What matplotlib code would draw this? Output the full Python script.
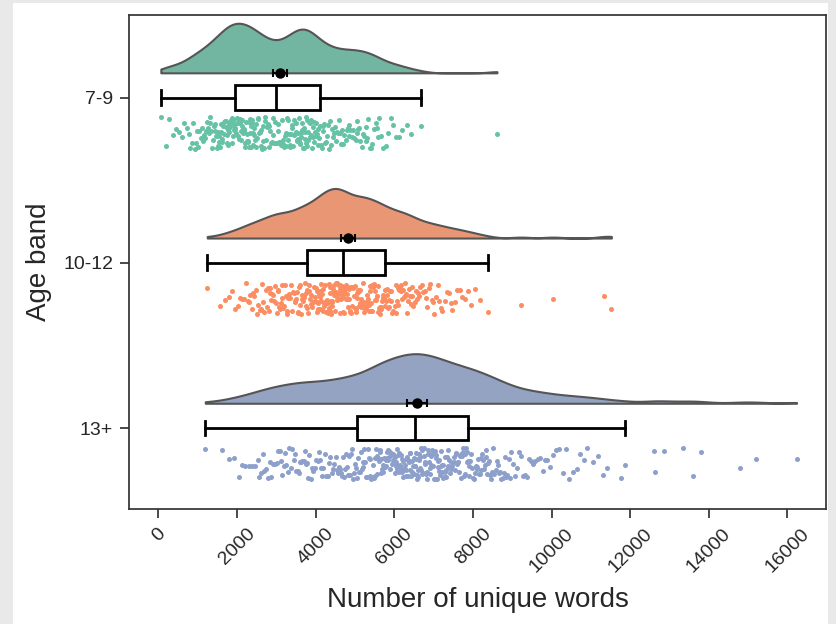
import colorsys
import numpy as np
import matplotlib
matplotlib.use("Agg")
import matplotlib.pyplot as plt
from matplotlib.patches import Rectangle

plt.rcParams["font.family"] = ["Liberation Sans", "DejaVu Sans"]

bands = ["7-9", "10-12", "13+"]
palette = ["#66c2a5", "#fc8d62", "#8da0cb"]
xticks = [0, 2000, 4000, 6000, 8000, 10000, 12000, 14000, 16000]

# unique-word counts per child
words_7_9 = [
    60, 190, 280, 370, 455, 530, 600, 660, 730, 770, 810, 850, 880, 920, 950, 990,
    1010, 1040, 1070, 1100, 1130, 1160, 1190, 1215, 1240,
    1255, 1275, 1300, 1320, 1340, 1360, 1385, 1405, 1425, 1450, 1470, 1490,
    1505, 1520, 1535, 1550, 1565, 1580, 1595, 1610, 1625, 1640, 1655, 1670, 1690, 1705, 1720, 1740,
    1755, 1765, 1775, 1790, 1800, 1810, 1825, 1835, 1850, 1860, 1870, 1885, 1895, 1905, 1920, 1930,
    1945, 1955, 1970, 1985,
    2005, 2015, 2030, 2040, 2050, 2065, 2075, 2090, 2100, 2110, 2125, 2135, 2150, 2160, 2175, 2185,
    2200, 2210, 2225, 2240,
    2255, 2270, 2280, 2295, 2310, 2320, 2335, 2350, 2360, 2375, 2390, 2400, 2415, 2430, 2440, 2455,
    2470, 2485,
    2505, 2520, 2540, 2555, 2570, 2590, 2605, 2620, 2640, 2655, 2670, 2690, 2705, 2720, 2740,
    2760, 2780, 2800, 2820, 2840, 2865, 2885, 2905, 2925, 2945, 2965, 2985,
    3010, 3030, 3050, 3070, 3095, 3115, 3135, 3155, 3175, 3200, 3220, 3240,
    3255, 3270, 3290, 3305, 3320, 3340, 3355, 3370, 3390, 3405, 3420, 3440, 3455, 3470, 3490,
    3505, 3515, 3530, 3545, 3555, 3570, 3580, 3595, 3610, 3620, 3635, 3650, 3660, 3675, 3690, 3700,
    3715, 3730, 3745,
    3755, 3770, 3785, 3800, 3815, 3830, 3845, 3860, 3875, 3890, 3905, 3920, 3935, 3950, 3965, 3980,
    3995,
    4010, 4030, 4050, 4070, 4090, 4110, 4130, 4150, 4175, 4195, 4215, 4240,
    4260, 4285, 4310, 4330, 4355, 4380, 4405, 4430, 4455, 4480,
    4510, 4535, 4560, 4590, 4615, 4640, 4670, 4695, 4725,
    4765, 4790, 4820, 4835, 4850, 4880, 4910, 4940, 4970,
    5015, 5045, 5060, 5075, 5105, 5135, 5165, 5195, 5230,
    5270, 5290, 5300, 5335, 5370, 5405, 5440, 5475,
    5530, 5560, 5575, 5620, 5665, 5710, 5790, 5850, 5910, 5960,
    6040, 6120, 6200, 6320, 6430, 6670, 8610,
]

words_10_12 = [
    1240, 1560, 1690, 1790, 1870, 1950, 2020, 2070, 2120, 2170, 2225,
    2265, 2300, 2335, 2370, 2405, 2440, 2480, 2510, 2540, 2570, 2600, 2630, 2660, 2690, 2725,
    2755, 2780, 2800, 2825, 2845, 2870, 2890, 2915, 2935, 2960, 2985,
    3010, 3030, 3050, 3070, 3090, 3110, 3130, 3150, 3170, 3190, 3215, 3235,
    3260, 3280, 3305, 3325, 3350, 3370, 3395, 3415, 3440, 3460, 3485,
    3510, 3525, 3540, 3560, 3575, 3590, 3610, 3625, 3640, 3660, 3675, 3690, 3710, 3725, 3740,
    3755, 3770, 3790, 3805, 3820, 3840, 3855, 3870, 3890, 3905, 3920, 3940, 3955, 3970, 3990,
    4005, 4020, 4030, 4045, 4060, 4070, 4085, 4100, 4110, 4115, 4125, 4140, 4150, 4165, 4180, 4195,
    4205, 4220, 4230, 4240,
    4255, 4265, 4275, 4285, 4300, 4310, 4320, 4330, 4345, 4355, 4365, 4375, 4385, 4390, 4400, 4410,
    4420, 4425, 4435, 4445, 4460, 4475, 4490,
    4505, 4515, 4525, 4535, 4545, 4555, 4565, 4575, 4585, 4595, 4605, 4615, 4625, 4635, 4645, 4655,
    4665, 4675, 4685, 4695, 4705, 4715, 4730, 4745,
    4755, 4765, 4780, 4790, 4805, 4815, 4830, 4840, 4855, 4865, 4880, 4890, 4905, 4915, 4930, 4940,
    4965, 4990,
    5005, 5015, 5030, 5040, 5055, 5065, 5080, 5090, 5105, 5115, 5130, 5140, 5155, 5165, 5180, 5190,
    5205, 5215, 5230, 5245,
    5255, 5270, 5280, 5295, 5310, 5320, 5335, 5350, 5360, 5375, 5390, 5400, 5415, 5430, 5440, 5455,
    5470, 5485,
    5505, 5520, 5535, 5550, 5565, 5580, 5595, 5610, 5625, 5640, 5655, 5670, 5690, 5705, 5720, 5740,
    5755, 5770, 5790, 5805, 5820, 5840, 5855, 5870, 5890, 5905, 5920, 5940, 5970,
    6010, 6030, 6045, 6065, 6085, 6100, 6120, 6140, 6160, 6175, 6195, 6215, 6235,
    6260, 6280, 6305, 6325, 6350, 6370, 6395, 6415, 6440, 6460, 6485,
    6515, 6545, 6575, 6605, 6635, 6665, 6695, 6730,
    6770, 6805, 6840, 6875, 6910, 6945, 6980,
    7020, 7060, 7100, 7140, 7180, 7220, 7280, 7330, 7380, 7430, 7470,
    7540, 7600, 7660, 7720, 7800, 7880, 7950, 8060, 8180, 8380,
    9220, 10040, 11340, 11520,
]

words_13_plus = [
    1190, 1620, 1790, 1930, 2040, 2120, 2210, 2290, 2370, 2450,
    2520, 2560, 2600, 2650, 2690, 2740, 2780, 2830, 2870, 2920, 2970,
    3010, 3045, 3080, 3115, 3150, 3185, 3220, 3255, 3290, 3325, 3360, 3400, 3440, 3475,
    3510, 3540, 3570, 3600, 3630, 3660, 3690, 3720, 3750, 3780, 3810, 3840, 3870, 3905, 3940, 3975,
    4015, 4045, 4075, 4105, 4135, 4165, 4195, 4225, 4255, 4285, 4315, 4345, 4375, 4405, 4435, 4470,
    4510, 4535, 4560, 4585, 4610, 4640, 4665, 4690, 4715, 4740, 4765, 4790, 4815, 4840, 4865, 4890,
    4915, 4945, 4975,
    5010, 5030, 5055, 5075, 5100, 5120, 5145, 5165, 5190, 5210, 5235, 5255, 5280, 5300, 5325, 5345,
    5370, 5390, 5415, 5435, 5460, 5485,
    5505, 5520, 5535, 5550, 5565, 5580, 5595, 5610, 5625, 5640, 5655, 5670, 5685, 5700, 5715, 5730,
    5745, 5760, 5775, 5790, 5805, 5820, 5835, 5850, 5865, 5880, 5900, 5915, 5935, 5955, 5975,
    6005, 6020, 6035, 6050, 6060, 6065, 6075, 6090, 6105, 6120, 6130, 6145, 6160, 6175, 6190, 6200,
    6215, 6230, 6245, 6260, 6270, 6285, 6300, 6315, 6330, 6340, 6355, 6370, 6385, 6395, 6400, 6410,
    6425, 6440, 6455, 6470, 6490,
    6505, 6520, 6535, 6550, 6560, 6575, 6580, 6590, 6605, 6620, 6630, 6645, 6660, 6675, 6690, 6700,
    6715, 6730, 6745, 6760, 6770, 6785, 6800, 6815, 6830, 6840, 6855, 6865, 6870, 6885, 6900, 6910,
    6925, 6940, 6955, 6970, 6990,
    7010, 7025, 7040, 7055, 7070, 7085, 7100, 7115, 7130, 7145, 7160, 7175, 7190, 7205, 7220, 7235,
    7250, 7265, 7280, 7295, 7310, 7325, 7340, 7355, 7370, 7385, 7400, 7415, 7430, 7450, 7465,
    7510, 7525, 7545, 7560, 7580, 7595, 7615, 7630, 7650, 7665, 7685, 7700, 7720, 7735, 7755, 7770,
    7790, 7805, 7825, 7840, 7860, 7875, 7895, 7910, 7930, 7945, 7965,
    8010, 8030, 8050, 8070, 8090, 8110, 8130, 8150, 8175, 8195, 8215, 8235, 8255, 8275, 8295, 8320,
    8340, 8360, 8380, 8400, 8425, 8450, 8475,
    8515, 8545, 8575, 8605, 8635, 8665, 8695, 8725, 8755, 8785, 8815, 8845, 8875, 8905, 8940, 8975,
    9030, 9080, 9130, 9180, 9230, 9280, 9330, 9380, 9430, 9480,
    9530, 9590, 9650, 9710, 9770, 9830, 9890, 9950,
    10040, 10120, 10200, 10280, 10360, 10440, 10550, 10640, 10730, 10820, 10910,
    11060, 11180, 11300, 11420, 11770, 11870,
    12600, 12620, 12870, 13350, 13600, 13810, 14780, 15210, 16230,
]

groups = [words_7_9, words_10_12, words_13_plus]


def desaturate(color, prop):
    r, g, b = matplotlib.colors.to_rgb(color)
    h, l, s = colorsys.rgb_to_hls(r, g, b)
    return colorsys.hls_to_rgb(h, l, s * prop)


def half_kde(vals, grid, factor=0.15):
    bw = factor * vals.std(ddof=1)
    z = (grid[:, None] - vals[None, :]) / bw
    return np.exp(-0.5 * z ** 2).sum(axis=1)


fig = plt.figure(figsize=(8.37, 6.24), dpi=100, facecolor="#e9e9e9")
fig.add_artist(Rectangle((13 / 837, 0), (828 - 13) / 837, 1 - 3 / 624,
                         transform=fig.transFigure, facecolor="white",
                         edgecolor="none", zorder=-5))
ax = fig.add_axes([129 / 837, 1 - 509 / 624, (826 - 129) / 837, (509 - 15) / 624])

for i, (vals, col) in enumerate(zip(groups, palette)):
    vals = np.asarray(vals, dtype=float)
    base = i - 0.15

    # cloud: half violin, cut at the data range, scaled to a fixed height
    grid = np.linspace(vals.min(), vals.max(), 500)
    dens = half_kde(vals, grid)
    dens = dens / dens.max() * 0.3
    ax.fill_between(grid, base, base - dens, facecolor=desaturate(col, 0.75),
                    edgecolor="#555555", linewidth=1.5, zorder=2)

    # box
    ax.boxplot(vals, positions=[i], orientation="horizontal", widths=0.15,
               whis=1.5, showfliers=False, patch_artist=True, capwidths=0.09,
               boxprops=dict(facecolor="white", edgecolor="black", linewidth=2),
               whiskerprops=dict(color="black", linewidth=2),
               capprops=dict(color="black", linewidth=2),
               medianprops=dict(color="black", linewidth=2), zorder=4)

    # rain: jittered strip below the box
    idx = np.arange(len(vals))
    jit = (np.sin(idx * 12.9898 + i * 78.233) * 43758.5453) % 1.0
    ax.scatter(vals, i + 0.215 + (jit - 0.5) * 0.19, s=13, color=col,
               linewidths=0, zorder=3)

    # mean with 95% CI
    m = vals.mean()
    ci = 1.96 * vals.std(ddof=1) / np.sqrt(len(vals))
    ax.errorbar(m, base, xerr=ci, fmt="o", color="black", ms=6.5,
                capsize=3, elinewidth=1.5, capthick=1.5, zorder=6)

ax.set_xlim(-750, 16980)
ax.set_ylim(2.49, -0.5)
ax.set_yticks(range(len(bands)), bands)
ax.set_xticks(xticks, [str(t) for t in xticks], rotation=45)
ax.tick_params(length=6.5, width=1.25, pad=5, color="#333333", labelsize=14,
               labelcolor="#262626")
for sp in ax.spines.values():
    sp.set_linewidth(1.25)
    sp.set_color("#333333")
ax.set_xlabel("Number of unique words", fontsize=20, color="#262626", labelpad=8)
ax.set_ylabel("Age band", fontsize=20, color="#262626", labelpad=8)

fig.savefig("out.png", dpi=100, facecolor=fig.get_facecolor())
